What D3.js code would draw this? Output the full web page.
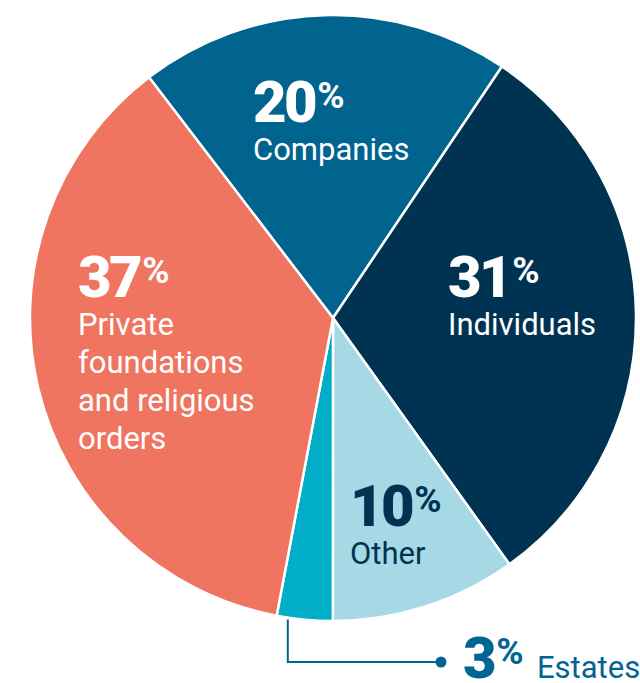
<!DOCTYPE html>
<html>
<head>
<meta charset="utf-8">
<script src="https://cdn.jsdelivr.net/npm/d3@7"></script>
<style>
  body { margin: 0; background: #fff; }
  svg { display: block; font-family: Roboto, "Noto Sans", sans-serif; }
</style>
</head>
<body>
<svg id="chart" width="640" height="683"></svg>
<script>
// shares of funding by source, clockwise from the top-left
var categories = ["Companies", "Individuals", "Other", "Estates", "Private foundations and religious orders"]
var values = [20, 31, 10, 3, 37]
var colors = ["#00648f", "#003352", "#a6d9e5", "#00aec7", "#ef7561"]

var width = 640, height = 683
var cx = 333, cy = 318, radius = 303
var startDeg = -37.4

var svg = d3.select("#chart")
var g = svg.append("g").attr("transform", "translate(" + cx + "," + cy + ")")

var pie = d3.pie()
  .sort(null)
  .value(d => d)
  .startAngle(startDeg * Math.PI / 180)
  .endAngle(startDeg * Math.PI / 180 + 2 * Math.PI)

var arc = d3.arc().innerRadius(0).outerRadius(radius)
var arcs = pie(values)

g.selectAll("path.slice")
  .data(arcs).enter()
  .append("path")
    .attr("class", "slice")
    .attr("d", arc)
    .attr("fill", (d, i) => colors[i])
    .attr("stroke", "#fff")
    .attr("stroke-width", 2.5)
    .attr("stroke-linejoin", "round")

/*
labels: big bold number with a raised %, then the name in lines
*/
var labels = [
  {i: 0, x: 253, y: 122, lines: ["Companies"], fill: "#fff"},
  {i: 1, x: 448, y: 297, lines: ["Individuals"], fill: "#fff"},
  {i: 2, x: 350, y: 526, lines: ["Other"], fill: "#003352"},
  {i: 4, x: 78, y: 297, lines: ["Private", "foundations", "and religious", "orders"], fill: "#fff"}
]

function addNumber(sel, x, y, val, fill) {
  var t = sel.append("text")
    .attr("x", x).attr("y", y)
    .attr("fill", fill)
    .style("font-weight", 900)
    .style("font-size", "58px")
    .style("letter-spacing", "-2.5px")
  t.append("tspan").text(val)
  t.append("tspan")
    .attr("dx", 2).attr("dy", -14)
    .style("font-size", "37px")
    .style("font-weight", 700)
    .style("letter-spacing", "0px")
    .text("%")
  return t
}

labels.forEach(function(l){
  addNumber(svg, l.x, l.y, values[l.i], l.fill)
  l.lines.forEach(function(line, k){
    svg.append("text")
      .attr("x", l.x)
      .attr("y", l.y + 38 + k * 38)
      .attr("fill", l.fill)
      .style("font-size", "31px")
      .text(line)
  })
})

/*
callout for the small Estates slice
*/
var callColor = "#006592"
var est = arcs[3]
var ang = est.startAngle + (est.endAngle - est.startAngle) * 0.8
var lx = cx + Math.sin(ang) * radius
var ly0 = cy - Math.cos(ang) * radius + 2
svg.append("path")
  .attr("d", d3.line()([[lx, ly0], [lx, 662], [441, 662]]))
  .attr("fill", "none")
  .attr("stroke", callColor)
  .attr("stroke-width", 2)
svg.append("circle")
  .attr("cx", 441).attr("cy", 662).attr("r", 5.5)
  .attr("fill", callColor)

addNumber(svg, 463, 678, values[3], callColor)
svg.append("text")
  .attr("x", 537).attr("y", 678)
  .attr("fill", callColor)
  .style("font-size", "31px")
  .text(categories[3])
</script>
</body>
</html>
